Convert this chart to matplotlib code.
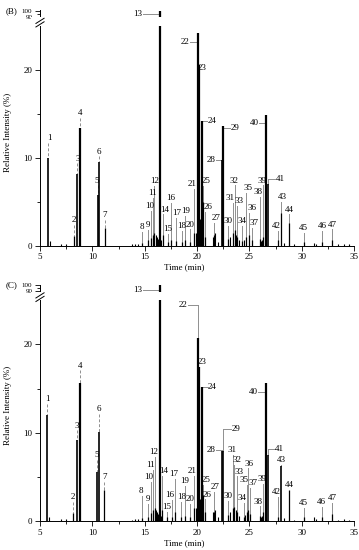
import numpy as np
import matplotlib.pyplot as plt

plt.rcParams['font.family'] = ['Liberation Serif', 'DejaVu Serif']
plt.rcParams['font.size'] = 6.5

# ---- panel (B): retention time (min), peak height (%), label placement ----
b_rt = [5.80, 8.25, 8.57, 8.82, 10.50, 10.64, 11.24, 14.70, 15.28, 15.57,
        15.80, 15.92, 16.46, 16.72, 17.20, 17.50, 18.00, 18.55, 18.90, 19.35,
        19.75, 20.06, 20.19, 20.45, 20.57, 20.75, 21.60, 22.42, 22.48, 23.00,
        23.40, 23.60, 23.85, 24.30, 24.70, 25.00, 25.30, 26.00, 26.30, 26.56,
        26.80, 27.75, 28.07, 28.80, 30.20, 31.92, 32.88]
b_height = [10.0, 1.1, 8.2, 13.4, 5.8, 9.5, 2.0, 0.3, 0.6, 0.9,
            1.2, 1.5, 100.0, 1.2, 0.4, 0.6, 0.5, 0.4, 0.7, 0.4,
            1.5, 24.2, 20.5, 14.2, 5.0, 1.0, 1.2, 9.7, 13.6, 0.8,
            1.5, 1.8, 1.0, 0.5, 1.0, 1.2, 0.6, 0.8, 1.0, 14.8,
            7.0, 0.6, 3.7, 2.6, 0.4, 0.4, 0.6]
b_label_t = [5.86, 8.25, 8.63, 8.82, 10.44, 10.64, 11.21, 14.71, 15.29, 15.50,
             15.79, 15.92, 14.36, 16.94, 17.16, 17.51, 18.06, 18.56, 18.88, 19.36,
             19.55, 18.85, 20.44, 21.40, 20.85, 21.02, 21.81, 21.33, 23.62, 22.98,
             23.15, 23.56, 24.04, 24.29, 24.84, 25.22, 25.41, 25.79, 26.17, 25.47,
             27.92, 27.61, 28.11, 28.81, 30.19, 31.96, 32.89]
b_label_y = [12.2, 2.9, 9.9, 15.1, 7.4, 10.7, 3.5, 2.1, 2.35, 4.5,
             6.0, 7.3, 94.0, 4.1, 1.9, 5.4, 3.7, 2.2, 3.9, 2.4,
             7.0, 23.1, 20.2, 14.2, 7.3, 4.4, 3.1, 9.7, 13.4, 2.8,
             5.4, 7.4, 5.1, 2.8, 6.5, 4.3, 2.6, 6.1, 7.4, 13.9,
             7.6, 2.2, 5.5, 4.1, 2.0, 2.2, 2.4]
b_minor_rt = [5.95, 7.00, 7.50, 13.80, 14.10, 14.40, 16.05, 16.15, 16.30, 16.60,
              19.95, 20.30, 20.35, 21.50, 21.70, 22.00, 23.20, 23.70, 24.00, 24.50,
              26.10, 26.20, 28.30, 29.30, 31.20, 31.40, 33.50, 34.00, 34.50]
b_minor_h = [0.5, 0.2, 0.2, 0.15, 0.2, 0.2, 1.2, 1.0, 0.8, 0.6,
             1.5, 3.0, 2.0, 1.0, 1.5, 0.4, 1.0, 1.2, 0.6, 0.7,
             0.5, 0.6, 0.3, 0.15, 0.3, 0.2, 0.15, 0.2, 0.15]

# ---- panel (C) ----
c_rt = [5.70, 8.12, 8.50, 8.82, 10.40, 10.66, 11.15, 14.75, 15.30, 15.60,
        15.80, 15.95, 16.46, 16.70, 17.15, 17.60, 17.90, 18.45, 18.85, 19.30,
        19.70, 20.06, 20.20, 20.45, 20.55, 20.75, 21.60, 22.42, 22.48, 23.00,
        23.40, 23.55, 23.80, 24.50, 24.75, 24.90, 25.10, 26.00, 26.27, 26.60,
        26.80, 27.75, 28.07, 28.80, 30.20, 31.90, 32.90]
c_height = [12.0, 0.9, 9.2, 15.6, 5.6, 10.1, 3.5, 0.3, 0.5, 0.9,
            1.2, 1.5, 100.0, 1.2, 0.4, 0.5, 1.0, 0.4, 0.6, 0.4,
            1.5, 20.7, 17.4, 15.2, 3.0, 1.0, 1.0, 7.9, 7.9, 0.7,
            1.5, 1.6, 1.0, 0.5, 1.0, 1.3, 0.8, 0.6, 1.0, 15.6,
            7.5, 0.5, 6.2, 3.5, 0.4, 0.4, 0.8]
c_label_t = [5.70, 8.12, 8.56, 8.82, 10.41, 10.66, 11.20, 14.65, 15.32, 15.41,
             15.60, 15.89, 14.36, 16.84, 17.10, 17.35, 17.73, 18.53, 18.78, 19.33,
             19.49, 18.69, 20.50, 21.46, 20.85, 20.98, 21.71, 21.33, 23.72, 22.93,
             23.31, 23.84, 24.00, 24.29, 24.45, 24.99, 25.32, 25.79, 26.17, 25.37,
             27.86, 27.54, 28.08, 28.78, 30.19, 31.93, 32.92]
c_label_y = [13.8, 2.7, 10.8, 17.6, 7.5, 12.7, 5.0, 3.4, 2.5, 5.0,
             6.3, 7.8, 92.0, 5.7, 1.6, 2.9, 5.3, 2.75, 4.5, 2.45,
             5.7, 24.5, 18.0, 15.2, 4.6, 3.0, 3.8, 8.0, 10.4, 2.8,
             8.0, 6.9, 5.6, 2.6, 4.6, 6.5, 4.3, 2.2, 4.7, 14.6,
             8.2, 3.3, 6.9, 4.1, 2.0, 2.1, 2.6]
c_minor_rt = [5.85, 7.00, 7.50, 13.80, 14.10, 14.40, 16.05, 16.15, 16.30, 16.60,
              19.95, 20.30, 20.35, 21.50, 21.70, 22.00, 23.20, 23.70, 24.00, 24.60,
              26.10, 26.20, 28.30, 29.30, 31.20, 31.40, 33.50, 34.00, 34.50]
c_minor_h = [0.5, 0.2, 0.2, 0.15, 0.2, 0.2, 1.3, 1.0, 0.8, 0.6,
             1.5, 2.5, 2.0, 1.0, 1.3, 0.4, 1.0, 1.2, 0.6, 0.7,
             0.5, 0.6, 0.3, 0.15, 0.4, 0.2, 0.15, 0.2, 0.15]

# labels joined by a horizontal leader, and labels sitting beside their peak
side_b = {13: 'left', 22: 'left', 24: 'right', 28: 'left', 29: 'right', 40: 'left', 41: 'right'}
side_c = {13: 'left', 22: 'left', 24: 'right', 28: 'left', 29: 'right', 40: 'left', 41: 'right'}
no_leader = {23}
dashed = {1, 2, 3, 4, 5, 6, 7}

# broken y axis: 0-25 linear, 25-90 squeezed, 90-100 compressed
LOW_TOP, MID_TOP, F_MID, S_UP = 25.0, 90.0, 26.0, 0.07
S_MID = (F_MID - LOW_TOP) / (MID_TOP - LOW_TOP)


def fwd(y):
    y = np.asarray(y, dtype=float)
    return np.where(y <= LOW_TOP, y,
                    np.where(y <= MID_TOP, LOW_TOP + (y - LOW_TOP) * S_MID,
                             F_MID + (y - MID_TOP) * S_UP))


def inv(f):
    f = np.asarray(f, dtype=float)
    return np.where(f <= LOW_TOP, f,
                    np.where(f <= F_MID, LOW_TOP + (f - LOW_TOP) / S_MID,
                             MID_TOP + (f - F_MID) / S_UP))


YTOP = 100.5
GREY = '#8f8f8f'

fig = plt.figure(figsize=(3.59, 5.5), dpi=100)


def panel(rect, rt, height, lab_t, lab_y, side, minor_rt, minor_h):
    ax = fig.add_axes(rect)
    ax.set_yscale('function', functions=(fwd, inv))
    ax.set_xlim(5, 35)
    ax.set_ylim(0, YTOP)
    ax.set_xticks(np.arange(5, 36, 5))
    ax.set_xticks(np.arange(5, 35.1, 2.5), minor=True)
    ax.set_yticks([0, 10, 20, 90, 100])
    ax.set_yticks([5, 15, 95], minor=True)
    ax.set_yticklabels(['0', '10', '20', '90', '100'])
    for lab in ax.get_yticklabels()[3:]:
        lab.set_fontsize(5)
    for s in ('top', 'right'):
        ax.spines[s].set_visible(False)
    for s in ('left', 'bottom'):
        ax.spines[s].set_linewidth(0.7)
    ax.tick_params(which='major', direction='out', length=3.5, width=0.6, pad=2)
    ax.tick_params(which='minor', direction='out', length=2.2, width=0.6)

    rt = np.asarray(rt)
    height = np.asarray(height)
    lw = np.where(height > 12, 1.6, np.where(height > 5, 1.2, 0.9))
    ax.vlines(minor_rt, 0, minor_h, color='k', lw=0.8, zorder=2)
    ax.vlines(rt, 0, height, color='k', linewidths=lw, zorder=2)

    for i, (t, h, lt, ly) in enumerate(zip(rt, height, lab_t, lab_y)):
        n = i + 1
        ax.text(lt, ly, str(n), ha='center', va='center', zorder=6)
        if n in no_leader:
            continue
        if n in side:
            gap = 0.45 if n > 9 else 0.3
            x0 = lt + gap if side[n] == 'left' else lt - gap
            ax.plot([x0, t], [ly, ly], color=GREY, lw=0.7, zorder=1)
            if ly > h:
                ax.plot([t, t], [ly, h], color=GREY, lw=0.7, zorder=1)
            if n == 13:
                ax.plot([t, t], [ly - 3, ly + 4], color=GREY, lw=0.8, zorder=1)
        else:
            top = ly - 0.55
            if top > h:
                ls = (0, (3, 2)) if n in dashed else '-'
                ax.plot([t, t], [top, h], color=GREY, lw=0.7, ls=ls, zorder=1)

    # axis break
    ax.axhspan(LOW_TOP + 0.05, 89.0, xmin=-0.03, xmax=1.0, color='white',
               zorder=4, clip_on=False, lw=0)
    ftop = float(fwd(YTOP))
    dx, dy = 0.013, 0.011
    for fy in (25.15, 25.55):
        yf = fy / ftop
        ax.plot([-dx, dx], [yf - dy, yf + dy], transform=ax.transAxes,
                color='k', lw=0.7, clip_on=False, zorder=5)
    return ax


ftop = float(fwd(YTOP))
W, H = 359.0, 550.0
left, width = 40 / W, 314 / W

panel([left, (H - 245.7) / H, width, ftop * 8.8 / H],
      b_rt, b_height, b_label_t, b_label_y, side_b, b_minor_rt, b_minor_h)
panel([left, (H - 521.0) / H, width, ftop * 8.83 / H],
      c_rt, c_height, c_label_t, c_label_y, side_c, c_minor_rt, c_minor_h)

for tag, y_tag, y_lab, y_time in (('(B)', 11, 132, 266.7), ('(C)', 285, 405, 543.5)):
    fig.text(6 / W, 1 - y_tag / H, tag, ha='left', va='center')
    fig.text(8.5 / W, 1 - y_lab / H, 'Relative Intensity (%)', rotation=90,
             ha='center', va='center')
    fig.text(184 / W, 1 - y_time / H, 'Time (min)', ha='center', va='center')

fig.savefig('out.png', dpi=100)
